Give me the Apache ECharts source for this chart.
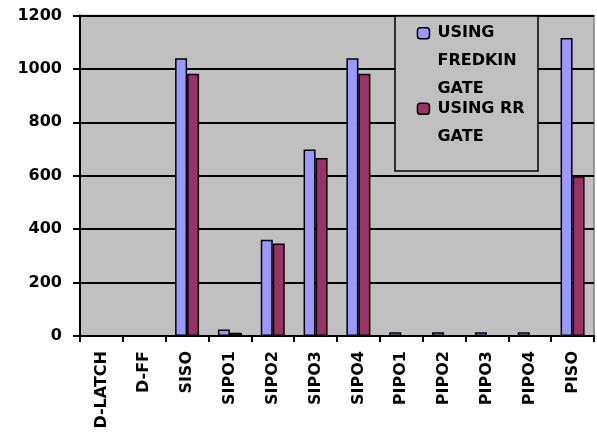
<!DOCTYPE html>
<html>
<head>
<meta charset="utf-8">
<script src="https://cdn.jsdelivr.net/npm/echarts@6/dist/echarts.min.js"></script>
<style>
  html, body { margin: 0; padding: 0; background: #ffffff; }
  #chart { width: 597px; height: 434px; }
</style>
</head>
<body>
<div id="chart"></div>
<script>
// Register categories and gate counts per implementation
const categories = ['D-LATCH', 'D-FF', 'SISO', 'SIPO1', 'SIPO2', 'SIPO3', 'SIPO4', 'PIPO1', 'PIPO2', 'PIPO3', 'PIPO4', 'PISO'];
const fredkinValues = [0, 0, 1040, 24, 360, 698, 1040, 14, 14, 14, 14, 1116];
const rrValues = [0, 0, 982, 12, 346, 666, 982, 0, 0, 0, 0, 598];
const seriesNames = ['USING FREDKIN GATE', 'USING RR GATE'];
const yTicks = { min: 0, max: 1200, interval: 200 };

const FONT = 'DejaVu Sans';
const LINE_H = 28;
const ICON_H = 11;

// Legend names are wrapped; leading blank lines keep the icon beside the first line
const wrapped = {};
wrapped[seriesNames[0]] = ['USING', 'FREDKIN', 'GATE'];
wrapped[seriesNames[1]] = ['USING RR', 'GATE'];

function padLines(lines) {
  const blanks = new Array(lines.length - 1).fill('');
  return blanks.concat(lines).join('\n');
}
function legendFor(name, iconTop) {
  const n = wrapped[name].length * 2 - 1;
  const halfBlock = n * LINE_H / 2;
  return {
    data: [name],
    orient: 'vertical',
    left: 416.7,
    top: iconTop + ICON_H / 2 - halfBlock,
    padding: 0,
    itemWidth: 12,
    itemHeight: ICON_H,
    z: 11,
    selectedMode: false,
    itemStyle: { borderColor: '#000', borderWidth: 1.5 },
    formatter: function (nm) { return padLines(wrapped[nm]); },
    textStyle: {
      fontFamily: FONT, fontWeight: 'bold', fontSize: 16, color: '#000',
      lineHeight: LINE_H,
      padding: [0, 0, 0, 3]
    }
  };
}

const chart = echarts.init(document.getElementById('chart'), null, { renderer: 'canvas' });
chart.setOption({
  animation: false,
  backgroundColor: '#ffffff',
  grid: {
    left: 80, right: 3, top: 15.5, bottom: 98,
    show: true, backgroundColor: '#c0c0c0', borderColor: '#808080', borderWidth: 1.5
  },
  graphic: [{
    type: 'rect', z: 10,
    shape: { x: 395, y: 16, width: 143, height: 155 },
    style: { fill: '#c0c0c0', stroke: '#000', lineWidth: 1.5 }
  }],
  legend: [
    legendFor(seriesNames[0], 27.7),
    legendFor(seriesNames[1], 103.3)
  ],
  xAxis: {
    type: 'category',
    data: categories,
    boundaryGap: true,
    axisLine: { lineStyle: { color: '#000', width: 2 } },
    axisTick: { show: true, length: 6, alignWithLabel: false, lineStyle: { color: '#000', width: 2 } },
    axisLabel: {
      rotate: 90, interval: 0, margin: 15,
      fontFamily: FONT, fontWeight: 'bold', fontSize: 16, color: '#000'
    },
    splitLine: { show: false }
  },
  yAxis: {
    type: 'value',
    min: yTicks.min, max: yTicks.max, interval: yTicks.interval,
    axisLine: { show: true, lineStyle: { color: '#000', width: 2 } },
    axisTick: { show: true, length: 7, lineStyle: { color: '#000', width: 2 } },
    axisLabel: {
      margin: 18,
      formatter: function (v) { return String(v); },
      fontFamily: FONT, fontWeight: 'bold', fontSize: 16, color: '#000'
    },
    splitLine: { show: true, lineStyle: { color: '#000', width: 2 } }
  },
  series: [
    {
      name: seriesNames[0], type: 'bar', data: fredkinValues,
      barWidth: 12, barGap: '0%',
      itemStyle: { color: '#9999ff', borderColor: '#000', borderWidth: 1.5 }
    },
    {
      name: seriesNames[1], type: 'bar', data: rrValues,
      barWidth: 12, barGap: '0%',
      itemStyle: { color: '#993366', borderColor: '#000', borderWidth: 1.5 }
    }
  ]
});
</script>
</body>
</html>
